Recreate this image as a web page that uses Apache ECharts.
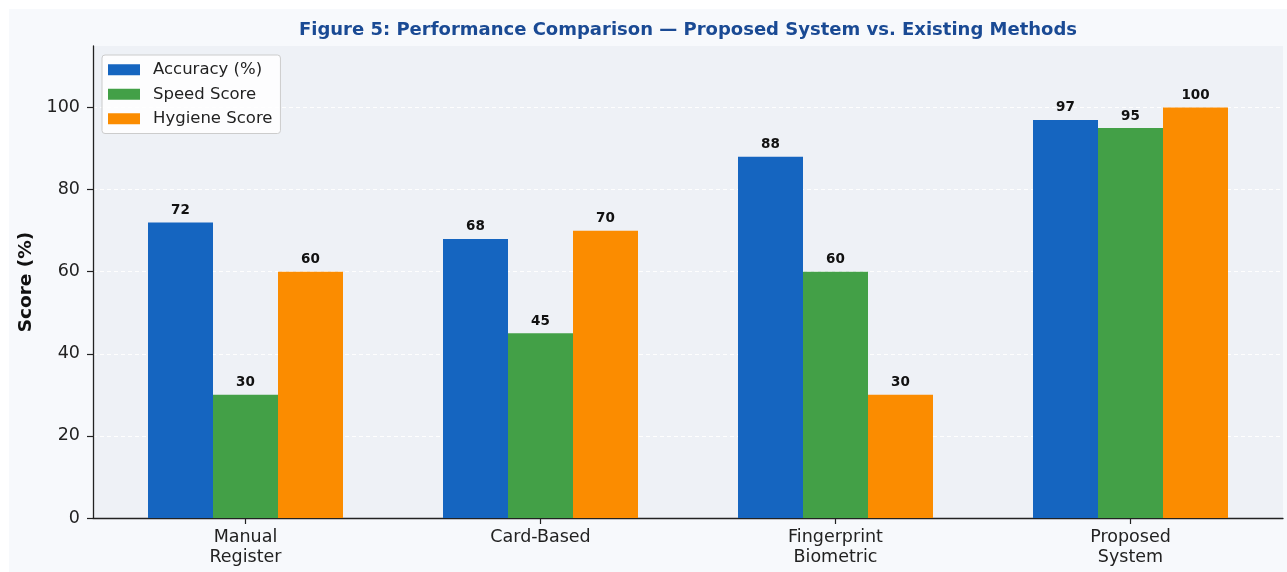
<!DOCTYPE html>
<html>
<head>
<meta charset="utf-8">
<script src="https://cdn.jsdelivr.net/npm/echarts@6/dist/echarts.min.js"></script>
<style>
  html, body { margin: 0; padding: 0; background: #ffffff; }
  #chart { width: 1287px; height: 572px; }
</style>
</head>
<body>
<div id="chart"></div>
<script>
// Methods compared and their scores
const categories = ['Manual\nRegister', 'Card-Based', 'Fingerprint\nBiometric', 'Proposed\nSystem'];
const accuracy = [72, 68, 88, 97];
const speed = [30, 45, 60, 95];
const hygiene = [60, 70, 30, 100];
const yTicks = [0, 20, 40, 60, 80, 100];
const seriesNames = ['Accuracy (%)', 'Speed Score', 'Hygiene Score'];

const FONT = 'DejaVu Sans';
const colors = ['#1565c0', '#43a047', '#fb8c00'];

const chart = echarts.init(document.getElementById('chart'), null, { renderer: 'canvas' });

function barSeries(name, values, color) {
  return {
    name: name,
    type: 'bar',
    xAxisIndex: 1,
    yAxisIndex: 1,
    barWidth: 65,
    barGap: '0%',
    data: values,
    itemStyle: { color: color },
    label: {
      show: true,
      position: 'top',
      distance: 5,
      fontFamily: FONT,
      fontWeight: 'bold',
      fontSize: 13.5,
      color: '#111111'
    },
    emphasis: { disabled: true },
    animation: false
  };
}

chart.setOption({
  animation: false,
  backgroundColor: '#ffffff',
  graphic: [
    {
      type: 'rect',
      z: -10,
      shape: { x: 9, y: 9, width: 1278, height: 563 },
      style: { fill: '#f7f9fc' },
      silent: true
    },
    {
      type: 'text',
      z: 10,
      x: 688,
      y: 30,
      style: {
        text: 'Figure 5: Performance Comparison \u2014 Proposed System vs. Existing Methods',
        align: 'center',
        verticalAlign: 'middle',
        font: 'bold 18px "DejaVu Sans"',
        fill: '#1a4a94'
      },
      silent: true
    }
  ],
  grid: [
    { left: 93, right: 4, top: 46, bottom: 54, show: true, backgroundColor: '#eef1f6', borderWidth: 0 },
    { left: 98, right: 9, top: 46, bottom: 54, show: false }
  ],
  legend: {
    orient: 'vertical',
    left: 102,
    top: 55,
    data: seriesNames,
    icon: 'rect',
    itemWidth: 32,
    itemHeight: 11,
    itemGap: 7,
    padding: [6, 8, 6, 6],
    backgroundColor: 'rgba(255,255,255,0.85)',
    borderColor: '#cccccc',
    borderWidth: 1,
    borderRadius: 3,
    textStyle: { fontFamily: FONT, fontSize: 16.5, color: '#222222', lineHeight: 17.5, padding: [0, 0, 0, 8] },
    selectedMode: false
  },
  xAxis: [
    {
      gridIndex: 0,
      type: 'value',
      min: 0,
      max: 1,
      axisLine: { show: true, lineStyle: { color: '#222222', width: 1.3 } },
      axisTick: { show: false },
      axisLabel: { show: false },
      splitLine: { show: false }
    },
    {
      gridIndex: 1,
      type: 'category',
      data: categories,
      boundaryGap: true,
      axisLine: { show: false },
      axisTick: { show: true, alignWithLabel: true, length: 6, lineStyle: { color: '#222222', width: 1.2 } },
      axisLabel: { fontFamily: FONT, fontSize: 17.5, color: '#222222', lineHeight: 19.5, margin: 10 },
      splitLine: { show: false }
    }
  ],
  yAxis: [
    {
      gridIndex: 0,
      type: 'value',
      min: 0,
      max: 115,
      interval: 20,
      name: 'Score (%)',
      nameLocation: 'middle',
      nameRotate: 90,
      nameGap: 48,
      nameTextStyle: { fontFamily: FONT, fontSize: 18.5, fontWeight: 'bold', color: '#111111' },
      axisLine: { show: true, lineStyle: { color: '#222222', width: 1.3 } },
      axisTick: { show: true, length: 6, customValues: yTicks, lineStyle: { color: '#222222', width: 1.2 } },
      axisLabel: { fontFamily: FONT, fontSize: 17.5, color: '#222222', margin: 13, customValues: yTicks },
      splitLine: { show: true, lineStyle: { color: '#ffffff', type: [4, 3], width: 1, opacity: 0.9 } }
    },
    {
      gridIndex: 1,
      type: 'value',
      min: 0,
      max: 115,
      show: false,
      splitLine: { show: false }
    }
  ],
  series: [
    barSeries(seriesNames[0], accuracy, colors[0]),
    barSeries(seriesNames[1], speed, colors[1]),
    barSeries(seriesNames[2], hygiene, colors[2])
  ]
});
</script>
</body>
</html>
